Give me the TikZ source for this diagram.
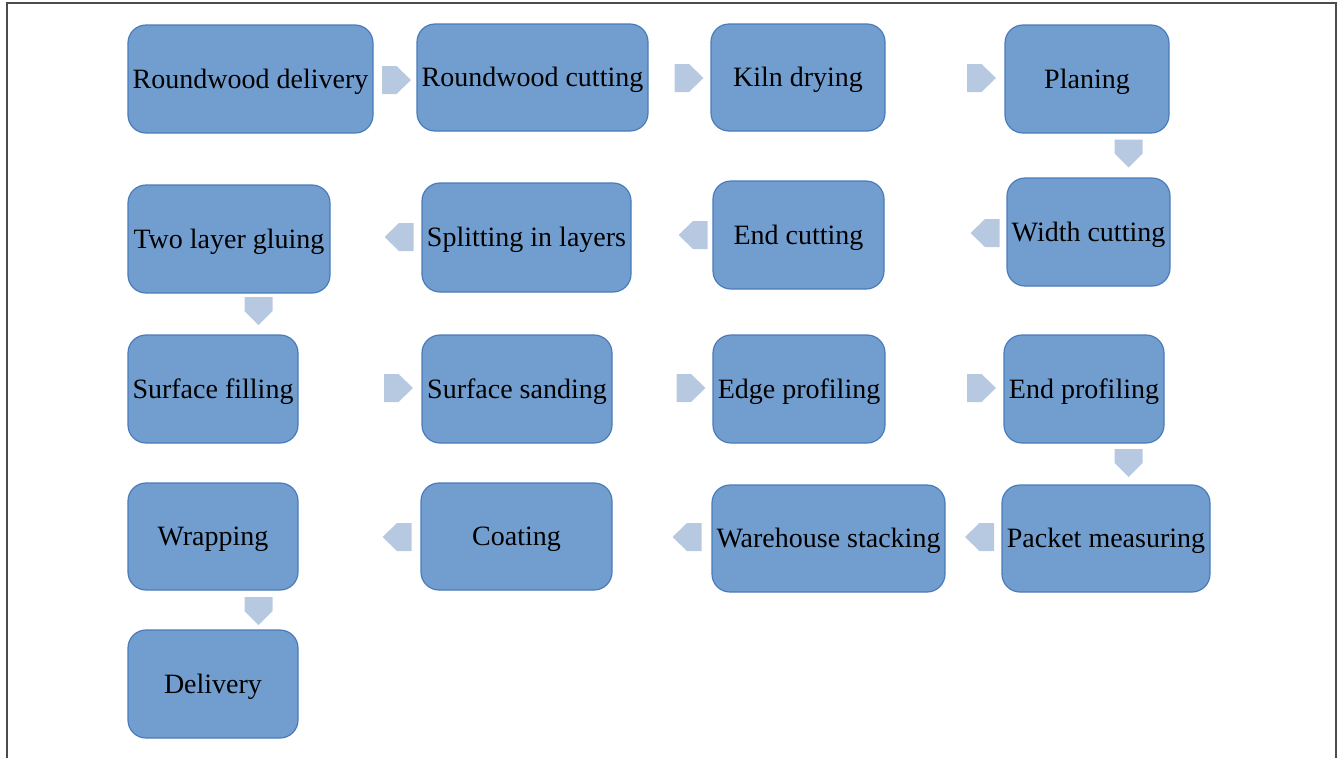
\documentclass[tikz,border=0pt]{standalone}
\usepackage{fontspec}
\setmainfont{Liberation Serif}
\definecolor{boxfill}{HTML}{729ECF}
\definecolor{boxline}{HTML}{4A7BBA}
\definecolor{arrfill}{HTML}{B7C9E0}
\tikzset{
  stepbox/.style={draw=boxline, line width=1.2pt, fill=boxfill, rounded corners=18pt,
    minimum height=107pt, inner sep=2pt, align=center,
    text height=18.5pt, text depth=0pt,
    font=\fontsize{28}{31}\selectfont, text=black},
  arrshape/.style={fill=arrfill, draw=none},
}
\newcommand\arrR[1]{\fill[arrshape, shift={(#1)}] (-14.5,-14) -- (0,-14) -- (14.5,0) -- (0,14) -- (-14.5,14) -- cycle;}
\newcommand\arrL[1]{\fill[arrshape, shift={(#1)}] (14.5,-14) -- (0,-14) -- (-14.5,0) -- (0,14) -- (14.5,14) -- cycle;}
\newcommand\arrD[1]{\fill[arrshape, shift={(#1)}] (-14,-14) -- (-14,0) -- (0,14) -- (14,0) -- (14,-14) -- cycle;}
\begin{document}
\begin{tikzpicture}[x=1pt,y=-1pt]
\useasboundingbox (0,0) rectangle (1343,758);
\draw[line width=2pt, black!70] (7,758) -- (7,3) -- (1336,3) -- (1336,758);
% boxes
\node[stepbox, minimum width=245pt, minimum height=108pt] (n1) at (250.5,79) {Roundwood delivery};
\node[stepbox, minimum width=231pt] (n2) at (532.5,77.5) {Roundwood cutting};
\node[stepbox, minimum width=174pt] (n3) at (798,77.5) {Kiln drying};
\node[stepbox, minimum width=164pt, minimum height=108pt] (n4) at (1087,79) {Planing};
\node[stepbox, minimum width=163pt, minimum height=108pt] (n5) at (1088.5,232) {Width cutting};
\node[stepbox, minimum width=171pt, minimum height=108pt] (n6) at (798.5,235) {End cutting};
\node[stepbox, minimum width=209pt, minimum height=109pt] (n7) at (526.5,237.5) {Splitting in layers};
\node[stepbox, minimum width=202pt, minimum height=108pt] (n8) at (229,239) {Two layer gluing};
\node[stepbox, minimum width=170pt, minimum height=108pt] (n9) at (213,389) {Surface filling};
\node[stepbox, minimum width=190pt, minimum height=108pt] (n10) at (517,389) {Surface sanding};
\node[stepbox, minimum width=172pt, minimum height=108pt] (n11) at (799,389) {Edge profiling};
\node[stepbox, minimum width=160pt, minimum height=108pt] (n12) at (1084,389) {End profiling};
\node[stepbox, minimum width=208pt] (n13) at (1106,538.5) {Packet measuring};
\node[stepbox, minimum width=233pt] (n14) at (828.5,538.5) {Warehouse stacking};
\node[stepbox, minimum width=191pt] (n15) at (516.5,536.5) {Coating};
\node[stepbox, minimum width=170pt] (n16) at (213,536.5) {Wrapping};
\node[stepbox, minimum width=170pt, minimum height=108pt] (n17) at (213,684) {Delivery};
% connectors
\arrR{396.5,80}
\arrR{689,78}
\arrR{981.5,78}
\arrD{1128.5,153.5}
\arrL{985,233}
\arrL{693,235}
\arrL{399,237}
\arrD{258.5,311}
\arrR{398.5,388}
\arrR{691,388}
\arrR{981.5,388}
\arrD{1128.5,463}
\arrL{979.5,537}
\arrL{687,537}
\arrL{397,537}
\arrD{258.5,611}
\end{tikzpicture}
\end{document}
